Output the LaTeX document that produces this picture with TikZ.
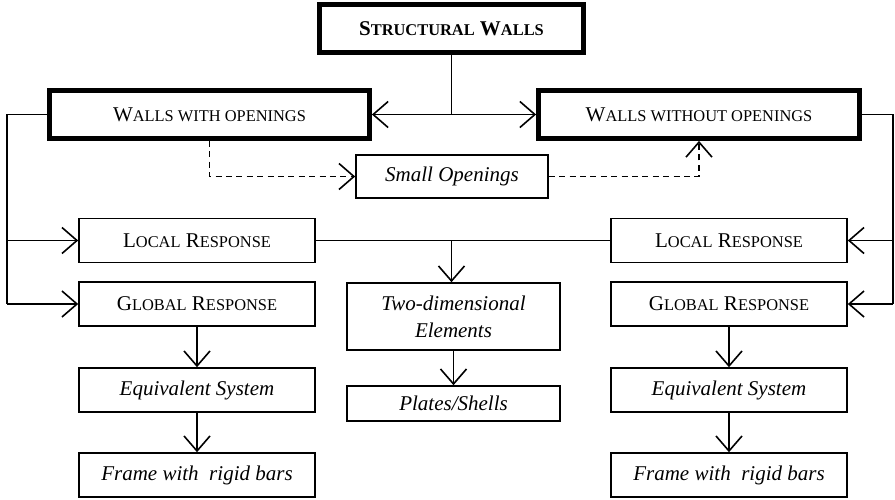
\documentclass[tikz,border=0pt]{standalone}
\usepackage{fontspec}
\setmainfont{Liberation Serif}
\usetikzlibrary{arrows.meta, positioning}

\newcommand{\smallcap}[1]{{\fontsize{8.2}{10}\selectfont #1}}

\begin{document}
\begin{tikzpicture}[
    x=0.5pt, y=-0.5pt,
    font=\fontsize{10.5}{13.5}\selectfont,
    mainbox/.style={rectangle, draw=black, line width=2.4pt, minimum height=24pt, inner sep=2pt},
    box/.style={rectangle, draw=black, line width=0.8pt, minimum width=118pt, minimum height=22pt, inner sep=2pt},
    line/.style={line width=0.8pt},
    arrow/.style={-{Straight Barb[length=7.5pt, width=13pt]}, line width=0.8pt},
    dashline/.style={arrow, dash pattern=on 3pt off 2.2pt}
]
\useasboundingbox (0,0) rectangle (895,499);

% Nodes
\node[mainbox, minimum width=132pt] (walls) at (451.5,28.5) {\textbf{S\smallcap{TRUCTURAL} W\smallcap{ALLS}}};
\node[mainbox, minimum width=160pt] (with) at (209.5,114.5) {W\smallcap{ALLS WITH OPENINGS}};
\node[mainbox, minimum width=160.5pt] (without) at (699,114.5) {W\smallcap{ALLS WITHOUT OPENINGS}};
\node[box, minimum width=96pt, minimum height=21.5pt] (small) at (452,176.5) {\textit{Small Openings}};

\node[box] (localL) at (197,240.5) {L\smallcap{OCAL} R\smallcap{ESPONSE}};
\node[box] (globalL) at (197,304) {G\smallcap{LOBAL} R\smallcap{ESPONSE}};
\node[box] (equivL) at (197,390) {\textit{Equivalent System}};
\node[box] (frameL) at (197,475) {\textit{Frame with~ rigid bars}};

\node[box] (localR) at (729,240.5) {L\smallcap{OCAL} R\smallcap{ESPONSE}};
\node[box] (globalR) at (729,304) {G\smallcap{LOBAL} R\smallcap{ESPONSE}};
\node[box] (equivR) at (729,390) {\textit{Equivalent System}};
\node[box] (frameR) at (729,475) {\textit{Frame with~ rigid bars}};

\node[box, minimum width=106.5pt, minimum height=33.5pt, align=center] (twod) at (453.5,316.5) {\textit{Two-dimensional}\\\textit{Elements}};
\node[box, minimum width=106.5pt, minimum height=17.5pt] (plates) at (453.5,403.5) {\textit{Plates/Shells}};

% Helper points
\coordinate (split) at (walls.south |- with.east);
\coordinate (lbus) at (7,304);
\coordinate (rbus) at (893,304);

% Arrows
\draw[line] (walls.south) -- (split);
\draw[arrow] (split) -- (with.east);
\draw[arrow] (split) -- (without.west);

\draw[dashline] (with.south) |- (small.west);
\draw[dashline] (small.east) -| (without.south);

\draw[line] (with.west) -| (lbus);
\draw[arrow] (localL.west -| lbus) -- (localL.west);
\draw[arrow] (lbus) -- (globalL.west);

\draw[line] (without.east) -| (rbus);
\draw[arrow] (localR.east -| rbus) -- (localR.east);
\draw[arrow] (rbus) -- (globalR.east);

\draw[line] (localL.east) -- (localR.west);
\draw[arrow] (localL.east -| split) -- (split |- twod.north);
\draw[arrow] (twod) -- (plates);

\draw[arrow] (globalL) -- (equivL);
\draw[arrow] (equivL) -- (frameL);
\draw[arrow] (globalR) -- (equivR);
\draw[arrow] (equivR) -- (frameR);

\end{tikzpicture}
\end{document}
